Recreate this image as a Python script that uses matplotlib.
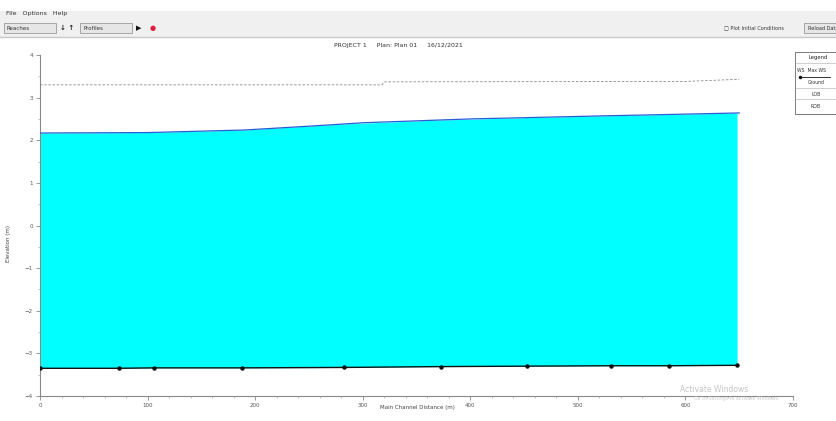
import matplotlib
matplotlib.use("Agg")
import matplotlib.pyplot as plt
import numpy as np
from matplotlib.patches import Rectangle
from matplotlib.lines import Line2D
from matplotlib.ticker import MultipleLocator

# ---- data ----
ws_x = [0, 100, 190, 250, 300, 400, 520, 650]
ws_y = [2.17, 2.18, 2.24, 2.33, 2.41, 2.50, 2.57, 2.64]

ground_x = [0, 73, 106, 188, 283, 373, 453, 531, 585, 648]
ground_y = [-3.35, -3.35, -3.34, -3.34, -3.33, -3.31, -3.30, -3.29, -3.29, -3.28]

crit_x = [0, 318, 320, 600, 650]
crit_y = [3.30, 3.30, 3.37, 3.38, 3.43]

x_ticks = [0, 100, 200, 300, 400, 500, 600, 700]
y_ticks = [-4, -3, -2, -1, 0, 1, 2, 3, 4]

title_text = "PROJECT 1     Plan: Plan 01     16/12/2021"
x_label = "Main Channel Distance (m)"
y_label = "Elevation (m)"
legend_labels = ["Legend", "WS  Max WS", "Ground", "LOB", "ROB"]

W, H = 837, 421
fig = plt.figure(figsize=(W / 100, H / 100), dpi=100)
fig.patch.set_facecolor("white")

def fx(px):
    return px / W

def fy(py):
    return 1 - py / H

# ---- window chrome ----
fig.patches.append(Rectangle((0, fy(37)), 1, (37 - 11) / H, transform=fig.transFigure,
                             facecolor="#f0f0f0", edgecolor="none", zorder=0))
fig.add_artist(Line2D([0, 1], [fy(37), fy(37)], transform=fig.transFigure, color="#c8c8c8", lw=1))
fig.text(fx(6), fy(14), "File   Options   Help", fontsize=4.5, color="#333333", va="center")
fig.patches.append(Rectangle((fx(4), fy(33)), 52 / W, 10 / H, transform=fig.transFigure,
                             facecolor="#e6e6e6", edgecolor="#9a9a9a", lw=0.6))
fig.text(fx(7), fy(28), "Reaches", fontsize=4, color="#333333", va="center")
fig.text(fx(60), fy(28), "\u2193 \u2191", fontsize=5, color="#222222", va="center", fontweight="bold")
fig.patches.append(Rectangle((fx(80), fy(33)), 52 / W, 10 / H, transform=fig.transFigure,
                             facecolor="#e6e6e6", edgecolor="#9a9a9a", lw=0.6))
fig.text(fx(84), fy(28), "Profiles", fontsize=4, color="#333333", va="center")
fig.text(fx(136), fy(28), "\u25b6", fontsize=5, color="#111111", va="center")
fig.text(fx(150), fy(28), "\u25cf", fontsize=5, color="#e0203a", va="center")
fig.text(fx(724), fy(28), "\u25a1 Plot Initial Conditions", fontsize=3.6, color="#333333", va="center")
fig.patches.append(Rectangle((fx(804), fy(33)), 40 / W, 10 / H, transform=fig.transFigure,
                             facecolor="#e6e6e6", edgecolor="#9a9a9a", lw=0.6))
fig.text(fx(808), fy(28), "Reload Data", fontsize=3.6, color="#333333", va="center")

# ---- axes ----
ax = fig.add_axes([fx(40), fy(396), (793 - 40) / W, (396 - 55) / H])
ax.set_facecolor("white")

ws_at_ground = np.interp(ground_x, ws_x, ws_y)
ax.fill_between(ground_x, ground_y, ws_at_ground, color="#00ffff", lw=0, zorder=1)
ax.plot(ws_x, ws_y, color="#2a5bd7", lw=0.9, zorder=3)
ax.plot(ground_x, ground_y, color="#111111", lw=1.0, marker="o", ms=2.2, zorder=4)
ax.plot(crit_x, crit_y, color="#8a8a8a", lw=0.6, ls=(0, (3, 2)), zorder=3)

ax.set_xlim(0, 700)
ax.set_ylim(-4, 4)
ax.set_xticks(x_ticks)
ax.set_yticks(y_ticks)
ax.xaxis.set_minor_locator(MultipleLocator(20))
ax.yaxis.set_minor_locator(MultipleLocator(0.5))
for s in ["top", "right"]:
    ax.spines[s].set_visible(False)
for s in ["left", "bottom"]:
    ax.spines[s].set_color("#888888")
    ax.spines[s].set_linewidth(0.8)
ax.tick_params(axis="both", which="major", labelsize=4, colors="#888888", labelcolor="#555555",
               length=3, width=0.6, pad=2)
ax.tick_params(axis="both", which="minor", length=1.5, width=0.5, colors="#aaaaaa")

fig.text(fx(417), fy(408), x_label, fontsize=4, color="#444444", ha="center", va="center")
fig.text(fx(9), fy(243), y_label, fontsize=4, color="#444444", ha="center", va="center", rotation=90)
fig.text(fx(398), fy(45), title_text, fontsize=4.5, color="#333333", ha="center", va="center")

# ---- legend box ----
lx0, ly0, lx1, ly1 = 795, 52, 845, 114
fig.patches.append(Rectangle((fx(lx0), fy(ly1)), (lx1 - lx0) / W, (ly1 - ly0) / H,
                             transform=fig.transFigure, facecolor="white", edgecolor="#666666", lw=0.6))
for yy in [63, 88, 99]:
    fig.add_artist(Line2D([fx(lx0), fx(lx1)], [fy(yy), fy(yy)], transform=fig.transFigure,
                          color="#aaaaaa", lw=0.4))
fig.text(fx(818), fy(57.5), legend_labels[0], fontsize=3.8, color="#222222", ha="center", va="center")
fig.text(fx(797), fy(70), legend_labels[1], fontsize=3.3, color="#333333", ha="left", va="center")
fig.add_artist(Line2D([fx(800), fx(830)], [fy(77), fy(77)], transform=fig.transFigure,
                      color="#111111", lw=0.6, marker="o", ms=1.5, markevery=[0]))
fig.text(fx(816), fy(83), legend_labels[2], fontsize=3.3, color="#333333", ha="center", va="center")
fig.text(fx(816), fy(94), legend_labels[3], fontsize=3.3, color="#333333", ha="center", va="center")
fig.text(fx(816), fy(106), legend_labels[4], fontsize=3.3, color="#333333", ha="center", va="center")

# ---- watermark ----
fig.text(fx(680), fy(389), "Activate Windows", fontsize=5.5, color="#c4c4c4", ha="left", va="center")
fig.text(fx(694), fy(398.5), "Go to Settings to activate Windows.", fontsize=3.4, color="#cccccc",
         ha="left", va="center")

fig.savefig("out.png", dpi=100, facecolor="white")
